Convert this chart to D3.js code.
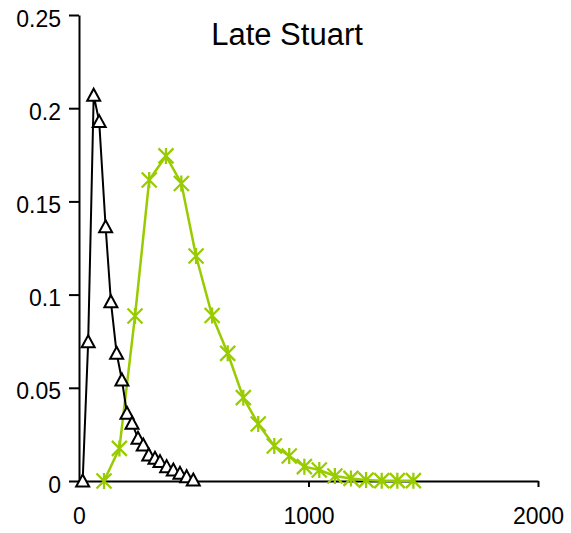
<!DOCTYPE html>
<html>
<head>
<meta charset="utf-8">
<script src="https://cdn.jsdelivr.net/npm/d3@7"></script>
<style>
	body { margin: 0; background: #fff; }
	svg { display: block; font-family: "Liberation Sans", Arial, sans-serif; }
</style>
</head>
<body>
<svg id="chart" width="571" height="533"></svg>
<script>
"use strict";

const title = 'Late Stuart';
const xTicks = [0, 1000, 2000];
const yTicks = [0, 0.05, 0.1, 0.15, 0.2, 0.25];

// black triangles
const blackX = [16, 40, 64, 88, 116, 139, 164, 187, 209, 231, 257, 280, 304, 331, 353, 382, 411, 440, 469, 498];
const blackY = [0, 0.0747, 0.207, 0.1928, 0.1364, 0.0962, 0.0685, 0.0542, 0.0363, 0.031, 0.0229, 0.0193, 0.014, 0.0122, 0.0104, 0.0077, 0.0059, 0.0041, 0.0023, 0.0005];

// green asterisks
const greenX = [109, 176, 244, 306, 379, 446, 510, 580, 648, 716, 781, 851, 916, 982, 1047, 1115, 1185, 1251, 1319, 1387, 1457];
const greenY = [0, 0.0175, 0.0885, 0.1615, 0.1744, 0.1596, 0.1207, 0.0888, 0.0685, 0.0447, 0.0306, 0.0188, 0.0134, 0.0077, 0.0059, 0.0027, 0.0014, 0.0005, 0.0002, 0.0002, 0.0002];

const green = '#99cc00';

(() => {
	const svg = d3.select('#chart');
	const x = d3.scaleLinear().domain([0, 2000]).range([79, 538]);
	const y = d3.scaleLinear().domain([0, 0.25]).range([481, 15]);

	const fmt = (d) => String(+d.toFixed(2));

	// axes
	const gx = svg.append('g')
		.attr('transform', `translate(0,${y(0)})`)
		.call(d3.axisBottom(x).tickValues(xTicks).tickFormat(d3.format('d')).tickSize(6).tickPadding(21).tickSizeOuter(0));
	const gy = svg.append('g')
		.attr('transform', `translate(${x(0)},0)`)
		.call(d3.axisLeft(y).tickValues(yTicks).tickFormat(fmt).tickSize(10).tickPadding(8).tickSizeOuter(0));
	[gx, gy].forEach((g) => {
		g.select('.domain').attr('stroke', '#000').attr('stroke-width', 2);
		g.selectAll('.tick line').attr('stroke', '#000').attr('stroke-width', 2);
		g.selectAll('.tick text').attr('fill', '#000').attr('font-size', 23)
			.attr('font-family', '"Liberation Sans", Arial, sans-serif');
	});
	gy.selectAll('.tick text').attr('dy', '0.48em');

	const line = d3.line().x((d) => x(d[0])).y((d) => y(d[1]));

	// green series
	const gData = greenX.map((v, i) => [v, greenY[i]]);
	svg.append('path')
		.datum(gData)
		.attr('d', line)
		.attr('fill', 'none')
		.attr('stroke', green)
		.attr('stroke-width', 2.5);
	svg.append('g').selectAll('path')
		.data(gData)
		.join('path')
		.attr('transform', (d) => `translate(${x(d[0])},${y(d[1])})`)
		.attr('d', 'M-7.5,-7.5L7.5,7.5M-7.5,7.5L7.5,-7.5M0,-8L0,8')
		.attr('stroke', green)
		.attr('stroke-width', 2.3)
		.attr('fill', 'none');

	// black series
	const bData = blackX.map((v, i) => [v, blackY[i]]);
	svg.append('path')
		.datum(bData)
		.attr('d', line)
		.attr('fill', 'none')
		.attr('stroke', '#000')
		.attr('stroke-width', 2);
	svg.append('g').selectAll('path')
		.data(bData)
		.join('path')
		.attr('transform', (d) => `translate(${x(d[0])},${y(d[1])})`)
		.attr('d', 'M0,-6.5L6.5,5.5L-6.5,5.5Z')
		.attr('stroke', '#000')
		.attr('stroke-width', 2)
		.attr('fill', '#fff');

	svg.append('text')
		.attr('x', 287)
		.attr('y', 45)
		.attr('text-anchor', 'middle')
		.attr('font-size', 31)
		.attr('fill', '#000')
		.text(title);
})();
</script>
</body>
</html>
